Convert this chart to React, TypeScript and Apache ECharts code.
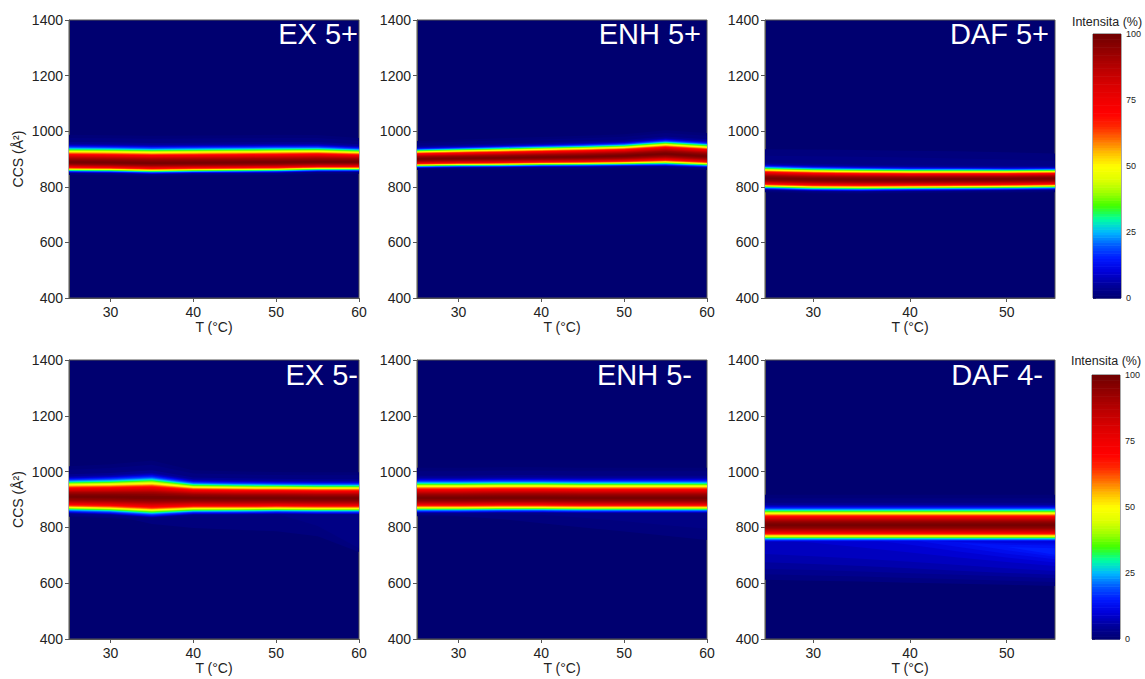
import React, { useEffect, useRef } from "react";
import * as echarts from "echarts";

// ---------- data ----------
const TEMPS_60 = [25, 30, 35, 40, 45, 50, 55, 60];
const TEMPS_55 = [25, 30, 35, 40, 45, 50, 55];

const X_TICKS_60 = [30, 40, 50, 60];
const X_TICKS_55 = [30, 40, 50];

const PANEL_TITLES = ["EX 5+", "ENH 5+", "DAF 5+", "EX 5-", "ENH 5-", "DAF 4-"];
const COLORBAR_TITLE = "Intensita (%)";
const X_NAME = "T (°C)";
const Y_NAME = "CCS (Å²)";

// peak centre (CCS) and half widths at 50 % intensity (above / below centre)
const EX5P_CENTER = [888, 887, 885, 886, 887, 888, 890, 890];
const EX5P_UP = [38, 38, 38, 38, 38, 38, 37, 33];
const EX5P_LO = [24, 24, 25, 24, 24, 24, 23, 23];

const ENH5P_CENTER = [900, 902, 904, 906, 908, 911, 918, 910];
const ENH5P_UP = [25, 26, 27, 28, 29, 30, 33, 32];
const ENH5P_LO = [21, 21, 22, 22, 23, 24, 28, 26];

const DAF5P_CENTER = [830, 827, 826, 826, 827, 828, 830];
const DAF5P_UP = [30, 29, 28, 27, 26, 25, 24];
const DAF5P_LO = [26, 27, 27, 26, 26, 26, 26];

const EX5M_CENTER = [910, 909, 907, 906, 905, 905, 904, 904];
const EX5M_UP = [42, 45, 51, 38, 37, 36, 36, 36];
const EX5M_LO = [38, 40, 45, 38, 37, 36, 36, 36];

const ENH5M_CENTER = [905, 905, 906, 906, 905, 905, 905, 905];
const ENH5M_UP = [42, 42, 42, 42, 42, 42, 42, 42];
const ENH5M_LO = [34, 34, 34, 34, 34, 34, 34, 34];

const DAF4M_CENTER = [808, 808, 808, 808, 808, 808, 808];
const DAF4M_UP = [42, 42, 42, 42, 42, 42, 42];
const DAF4M_LO = [39, 39, 39, 39, 39, 39, 39];

// peak shape: width (relative to the 50 % half width) at each intensity level
const PROFILE_LEVEL = [1, 3, 6, 10, 18, 25, 35, 50, 62, 75, 85, 92, 97, 100];
const PROFILE_UP = [2.6, 2.0, 1.75, 1.6, 1.45, 1.32, 1.18, 1.0, 0.85, 0.68, 0.5, 0.35, 0.2, 0];
const PROFILE_LO = [1.9, 1.65, 1.55, 1.5, 1.38, 1.27, 1.15, 1.0, 0.87, 0.7, 0.52, 0.36, 0.2, 0];

// faint secondary regions: intensity level, upper and lower CCS bound per temperature
const EX5P_HAZE: any[] = [];
const ENH5P_HAZE: any[] = [];
const DAF5P_HAZE = [
  { level: 1.5, top: [935, 934, 932, 930, 928, 924, 920], bottom: [840, 840, 840, 840, 840, 840, 840] },
  { level: 2.5, top: [912, 910, 908, 905, 902, 898, 894], bottom: [840, 840, 840, 840, 840, 840, 840] },
];
const EX5M_HAZE = [
  { level: 1.5, top: [850, 850, 850, 850, 850, 850, 850, 850], bottom: [850, 845, 812, 798, 792, 786, 768, 712] },
  { level: 2.5, top: [850, 850, 850, 850, 850, 850, 850, 850], bottom: [850, 850, 850, 850, 850, 850, 805, 725] },
];
const ENH5M_HAZE = [
  { level: 1.5, top: [850, 850, 850, 850, 850, 850, 850, 850], bottom: [850, 840, 830, 815, 800, 785, 770, 755] },
  { level: 2.5, top: [850, 850, 850, 850, 850, 850, 850, 850], bottom: [850, 850, 850, 845, 835, 822, 808, 795] },
];
const DAF4M_HAZE = [
  { level: 2, top: [770, 770, 770, 770, 770, 770, 770], bottom: [612, 609, 606, 602, 598, 594, 590] },
  { level: 3.5, top: [770, 770, 770, 770, 770, 770, 770], bottom: [632, 628, 624, 619, 614, 609, 604] },
  { level: 5, top: [768, 768, 768, 768, 768, 768, 768], bottom: [652, 647, 642, 636, 630, 624, 618] },
  { level: 6.5, top: [765, 765, 765, 765, 765, 765, 765], bottom: [675, 669, 662, 654, 645, 637, 630] },
  { level: 8, top: [762, 762, 762, 762, 762, 762, 762], bottom: [705, 697, 688, 677, 665, 654, 644] },
  { level: 9.5, top: [760, 760, 760, 760, 760, 760, 760], bottom: [760, 745, 728, 710, 692, 676, 662] },
  { level: 11, top: [758, 758, 758, 758, 755, 752, 750], bottom: [758, 758, 758, 738, 714, 692, 674] },
  { level: 12.5, top: [756, 756, 756, 756, 748, 744, 742], bottom: [756, 756, 756, 756, 730, 706, 686] },
  { level: 14, top: [745, 745, 745, 745, 745, 738, 735], bottom: [745, 745, 745, 745, 745, 718, 695] },
  { level: 15.5, top: [730, 730, 730, 730, 730, 730, 725], bottom: [730, 730, 730, 730, 730, 730, 702] },
];

// colour scale, 0 % .. 100 % in steps of 5 %
const COLOR_SCALE = [
  "#000070", "#00009a", "#0000d8", "#0018ff", "#0058ff", "#00b8ff", "#00ffa0",
  "#40ff00", "#a0ff00", "#e0ff00", "#ffff00", "#ffc000", "#ff7000", "#ff2800",
  "#ff0000", "#f00000", "#dc0000", "#c40000", "#a80000", "#8c0000", "#700000",
];
const COLORBAR_TICKS_INTERVAL = 25;

// ---------- layout ----------
const FONT = "'Liberation Sans', Arial, Helvetica, sans-serif";
const COL_LEFT = [69, 417, 765];
const ROW_TOP = [20, 360];
const ROW_H = [278, 279];
const PANEL_W = 290;
const TITLE_POS = [
  [358, 34], [701, 34], [1049, 34],
  [358, 375], [692, 375], [1043, 375],
];
const CB_BOX = [
  { left: 1093, top: 34, width: 28, height: 264, titleY: 22 },
  { left: 1092, top: 375, width: 28, height: 264, titleY: 361 },
];

const PANELS = [
  { temps: TEMPS_60, center: EX5P_CENTER, up: EX5P_UP, lo: EX5P_LO, hazes: EX5P_HAZE, ticks: X_TICKS_60 },
  { temps: TEMPS_60, center: ENH5P_CENTER, up: ENH5P_UP, lo: ENH5P_LO, hazes: ENH5P_HAZE, ticks: X_TICKS_60 },
  { temps: TEMPS_55, center: DAF5P_CENTER, up: DAF5P_UP, lo: DAF5P_LO, hazes: DAF5P_HAZE, ticks: X_TICKS_55 },
  { temps: TEMPS_60, center: EX5M_CENTER, up: EX5M_UP, lo: EX5M_LO, hazes: EX5M_HAZE, ticks: X_TICKS_60 },
  { temps: TEMPS_60, center: ENH5M_CENTER, up: ENH5M_UP, lo: ENH5M_LO, hazes: ENH5M_HAZE, ticks: X_TICKS_60 },
  { temps: TEMPS_55, center: DAF4M_CENTER, up: DAF4M_UP, lo: DAF4M_LO, hazes: DAF4M_HAZE, ticks: X_TICKS_55 },
];

function interp(xs: number[], ys: number[], x: number) {
  if (x <= xs[0]) return ys[0];
  for (let i = 1; i < xs.length; i++) {
    if (x <= xs[i]) {
      const t = (x - xs[i - 1]) / (xs[i] - xs[i - 1]);
      return ys[i - 1] + t * (ys[i] - ys[i - 1]);
    }
  }
  return ys[ys.length - 1];
}

type Contour = { level: number; top: number[]; bottom: number[] };

function buildContours(p: any): Contour[] {
  const levels: number[] = [1];
  for (let l = 2; l <= 98; l += 2) levels.push(l);
  levels.push(99);
  const list: Contour[] = [];
  for (const L of levels) {
    const ru = interp(PROFILE_LEVEL, PROFILE_UP, L);
    const rl = interp(PROFILE_LEVEL, PROFILE_LO, L);
    list.push({
      level: L,
      top: p.center.map((c: number, i: number) => c + p.up[i] * ru),
      bottom: p.center.map((c: number, i: number) => c - p.lo[i] * rl),
    });
  }
  for (const h of p.hazes) list.push(h);
  list.sort((a, b) => a.level - b.level);
  return list;
}

function buildOption() {
  const grids: any[] = [];
  const xAxes: any[] = [];
  const yAxes: any[] = [];
  const series: any[] = [];
  const graphics: any[] = [];
  const axisColor = "#555";
  const textColor = "#222";

  PANELS.forEach((p, k) => {
    const row = Math.floor(k / 3);
    const col = k % 3;
    grids.push({
      left: COL_LEFT[col], top: ROW_TOP[row], width: PANEL_W, height: ROW_H[row],
      show: true, backgroundColor: COLOR_SCALE[0], borderColor: axisColor, borderWidth: 1,
    });
    const xMax = p.temps[p.temps.length - 1];
    xAxes.push({
      gridIndex: k, type: "value", min: p.temps[0], max: xMax,
      axisLine: { show: true, lineStyle: { color: axisColor } },
      axisTick: { show: true, length: 4, customValues: p.ticks, lineStyle: { color: axisColor } },
      axisLabel: { customValues: p.ticks, fontSize: 14, color: textColor, margin: 7, fontFamily: FONT },
      splitLine: { show: false },
      name: X_NAME, nameLocation: "middle", nameGap: 22,
      nameTextStyle: { fontSize: 14, color: textColor, fontFamily: FONT },
    });
    yAxes.push({
      gridIndex: k, type: "value", min: 400, max: 1400, interval: 200,
      axisLine: { show: true, lineStyle: { color: axisColor } },
      axisTick: { show: true, length: 4, lineStyle: { color: axisColor } },
      axisLabel: { fontSize: 14, color: textColor, margin: 6, fontFamily: FONT, formatter: (v: number) => String(v) },
      splitLine: { show: false },
      name: col === 0 ? Y_NAME : "", nameLocation: "middle", nameGap: 44, nameRotate: 90,
      nameTextStyle: { fontSize: 14, color: textColor, fontFamily: FONT },
    });
    const contours = buildContours(p);
    const temps = p.temps;
    series.push({
      type: "custom", xAxisIndex: k, yAxisIndex: k, silent: true,
      data: contours.map((c) => [c.level, c.level]),
      renderItem: (params: any, api: any) => {
        const c = contours[params.dataIndex];
        const pts: number[][] = [];
        for (let i = 0; i < temps.length; i++) pts.push(api.coord([temps[i], c.top[i]]));
        for (let i = temps.length - 1; i >= 0; i--) pts.push(api.coord([temps[i], c.bottom[i]]));
        return { type: "polygon", shape: { points: pts }, style: { fill: api.visual("color") }, silent: true };
      },
    });
    graphics.push({
      type: "text", x: TITLE_POS[k][0], y: TITLE_POS[k][1], z: 100, silent: true,
      style: { text: PANEL_TITLES[k], fill: "#ffffff", fontSize: 29, fontFamily: FONT, align: "right", verticalAlign: "middle" },
    });
  });

  // colour bars
  const barValues: number[] = [];
  for (let v = 0.5; v < 100; v += 1) barValues.push(v);
  CB_BOX.forEach((b, j) => {
    const gi = PANELS.length + j;
    grids.push({ left: b.left, top: b.top, width: b.width, height: b.height, show: true, borderColor: axisColor, borderWidth: 1 });
    xAxes.push({ gridIndex: gi, type: "value", min: 0, max: 1, show: false });
    yAxes.push({
      gridIndex: gi, type: "value", min: 0, max: 100, interval: COLORBAR_TICKS_INTERVAL, position: "right",
      axisLine: { show: false },
      axisTick: { show: true, length: 3, lineStyle: { color: axisColor } },
      axisLabel: { fontSize: 9, color: textColor, margin: 5, fontFamily: FONT },
      splitLine: { show: false },
    });
    series.push({
      type: "custom", xAxisIndex: gi, yAxisIndex: gi, silent: true,
      data: barValues.map((v) => [v, v]),
      renderItem: (params: any, api: any) => {
        const v = api.value(0);
        const p0 = api.coord([0, v - 0.5]);
        const p1 = api.coord([1, v + 0.5]);
        return {
          type: "rect",
          shape: { x: p0[0], y: p1[1], width: p1[0] - p0[0], height: p0[1] - p1[1] + 0.6 },
          style: { fill: api.visual("color") }, silent: true,
        };
      },
    });
    graphics.push({
      type: "text", x: b.left + b.width / 2, y: b.titleY, silent: true,
      style: { text: COLORBAR_TITLE, fill: textColor, fontSize: 12.5, fontFamily: FONT, align: "center", verticalAlign: "middle" },
    });
  });

  return {
    animation: false,
    backgroundColor: "#ffffff",
    grid: grids,
    xAxis: xAxes,
    yAxis: yAxes,
    visualMap: [{
      type: "continuous", show: false, min: 0, max: 100, dimension: 0,
      seriesIndex: series.map((_, i) => i),
      inRange: { color: COLOR_SCALE },
    }],
    series,
    graphic: graphics,
  };
}

export default function App() {
  const ref = useRef<HTMLDivElement>(null);
  useEffect(() => {
    if (!ref.current) return;
    const chart = echarts.init(ref.current, undefined, { renderer: "svg" });
    chart.setOption(buildOption() as any);
    return () => chart.dispose();
  }, []);
  return <div ref={ref} style={{ position: "absolute", left: 0, top: 0, width: 1145, height: 679 }} />;
}
